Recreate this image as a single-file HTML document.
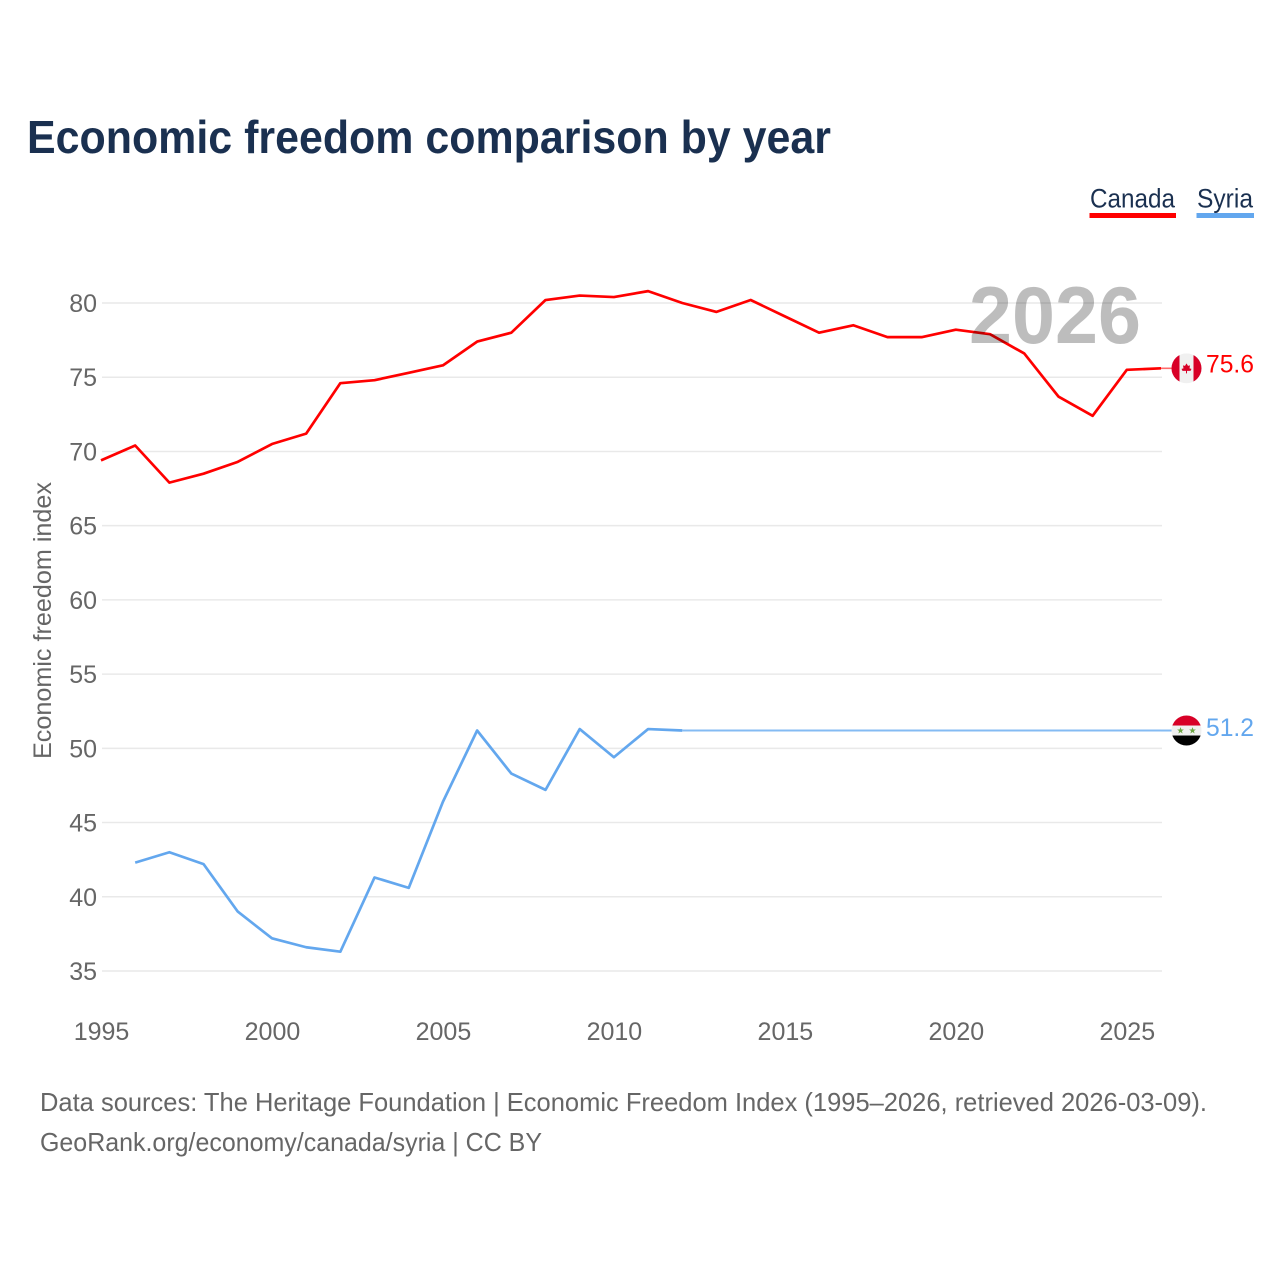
<!DOCTYPE html>
<html lang="en">
<head>
<meta charset="utf-8">
<title>Economic freedom comparison by year</title>
<style>
html,body{margin:0;padding:0;background:#fff;width:1280px;height:1280px;overflow:hidden}
svg{display:block}
text{font-family:"Liberation Sans",sans-serif}
</style>
</head>
<body>
<svg id="chart" width="1280" height="1280" viewBox="0 0 1280 1280" xmlns="http://www.w3.org/2000/svg">
  <defs>
    <clipPath id="flag-clip"><circle cx="0" cy="0" r="15"/></clipPath>
  </defs>
  <rect width="1280" height="1280" fill="#fff"/>
  <text x="27" y="153" font-size="46" font-weight="700" fill="#1a3050" textLength="804" lengthAdjust="spacingAndGlyphs">Economic freedom comparison by year</text>

  <g>
    <g>
      <text x="1090" y="207.5" font-size="27" fill="#1a3050" textLength="85" lengthAdjust="spacingAndGlyphs">Canada</text>
      <rect x="1089.5" y="213" width="86.5" height="5" fill="#ff0000"/>
    </g>
    <g>
      <text x="1197" y="207.5" font-size="27" fill="#1a3050" textLength="56" lengthAdjust="spacingAndGlyphs">Syria</text>
      <rect x="1196.5" y="213" width="57.5" height="5" fill="#63a7ee"/>
    </g>
  </g>

  <g id="grid"></g>
  <g id="y-ticks"></g>
  <g id="x-ticks"></g>
  <text transform="translate(51,759) rotate(-90)" font-size="25" fill="#666" textLength="277" lengthAdjust="spacingAndGlyphs">Economic freedom index</text>
  <g id="series"></g>

  <text x="969" y="343" font-size="81" font-weight="700" fill="rgba(0,0,0,0.26)" textLength="172" lengthAdjust="spacingAndGlyphs">2026</text>

  <g id="flag-canada">
    <g clip-path="url(#flag-clip)">
      <rect x="-15" y="-15" width="30" height="30" fill="#f0f0f0"/>
      <rect x="-15" y="-15" width="8" height="30" fill="#d80027"/>
      <rect x="7" y="-15" width="8" height="30" fill="#d80027"/>
      <polygon points="0,-5 1.5,-2.5 3.5,-3 3,0 5,0.5 4,2.5 0.5,2.5 0.5,5 -0.5,5 -0.5,2.5 -4,2.5 -5,0.5 -3,0 -3.5,-3 -1.5,-2.5" fill="#d80027"/>
    </g>
  </g>
  <g id="flag-syria">
    <g clip-path="url(#flag-clip)">
      <rect x="-15" y="-15" width="30" height="30" fill="#f0f0f0"/>
      <rect x="-15" y="-15" width="30" height="10" fill="#d80027"/>
      <rect x="-15" y="5" width="30" height="10" fill="#000"/>
      <polygon transform="translate(-6,0)" points="0,-3.4 0.9,-1 3.4,-1 1.4,0.5 2.1,3 0,1.5 -2.1,3 -1.4,0.5 -3.4,-1 -0.9,-1" fill="#6da544"/>
      <polygon transform="translate(6,0)" points="0,-3.4 0.9,-1 3.4,-1 1.4,0.5 2.1,3 0,1.5 -2.1,3 -1.4,0.5 -3.4,-1 -0.9,-1" fill="#6da544"/>
    </g>
  </g>
  <text id="end-label-canada" x="1206" font-size="25" fill="#ff0000" textLength="48" lengthAdjust="spacingAndGlyphs"></text>
  <text id="end-label-syria" x="1206" font-size="25" fill="#63a7ee" textLength="48" lengthAdjust="spacingAndGlyphs"></text>

  <g>
    <text x="40" y="1111" font-size="26" fill="#666" textLength="1167" lengthAdjust="spacingAndGlyphs">Data sources: The Heritage Foundation | Economic Freedom Index (1995–2026, retrieved 2026-03-09).</text>
    <text x="40" y="1151" font-size="26" fill="#666" textLength="502" lengthAdjust="spacingAndGlyphs">GeoRank.org/economy/canada/syria | CC BY</text>
  </g>
</svg>
<script>
const yTicks = [35, 40, 45, 50, 55, 60, 65, 70, 75, 80];
const xTicks = [1995, 2000, 2005, 2010, 2015, 2020, 2025];
const canadaYears = [1995, 1996, 1997, 1998, 1999, 2000, 2001, 2002, 2003, 2004, 2005, 2006, 2007, 2008, 2009, 2010, 2011, 2012, 2013, 2014, 2015, 2016, 2017, 2018, 2019, 2020, 2021, 2022, 2023, 2024, 2025, 2026];
const canadaValues = [69.4, 70.4, 67.9, 68.5, 69.3, 70.5, 71.2, 74.6, 74.8, 75.3, 75.8, 77.4, 78.0, 80.2, 80.5, 80.4, 80.8, 80.0, 79.4, 80.2, 79.1, 78.0, 78.5, 77.7, 77.7, 78.2, 77.9, 76.6, 73.7, 72.4, 75.5, 75.6];
const syriaYears = [1996, 1997, 1998, 1999, 2000, 2001, 2002, 2003, 2004, 2005, 2006, 2007, 2008, 2009, 2010, 2011, 2012];
const syriaValues = [42.3, 43.0, 42.2, 39.0, 37.2, 36.6, 36.3, 41.3, 40.6, 46.4, 51.2, 48.3, 47.2, 51.3, 49.4, 51.3, 51.2];
const syriaCarriedYears = [2012, 2026];
const syriaCarriedValues = [51.2, 51.2];
const canadaEndValue = 75.6;
const syriaEndValue = 51.2;

const NS = 'http://www.w3.org/2000/svg';
const xScale = yr => 101 + (yr - 1995) * (1161 - 101) / 31;
const yScale = v => 971 - (v - 35) * (971 - 303) / 45;

function makeSvg(tag, attrs, parent) {
  const el = document.createElementNS(NS, tag);
  for (const k in attrs) el.setAttribute(k, attrs[k]);
  parent.appendChild(el);
  return el;
}
function linePath(years, values) {
  return years.map((yr, i) => (i ? 'L' : 'M') + xScale(yr).toFixed(2) + ' ' + yScale(values[i]).toFixed(2)).join(' ');
}

const gridG = document.getElementById('grid');
const yG = document.getElementById('y-ticks');
const xG = document.getElementById('x-ticks');
const seriesG = document.getElementById('series');

yTicks.forEach(t => {
  const line = makeSvg('line', {x1: 102, x2: 1162, y1: yScale(t), y2: yScale(t), stroke: '#e9e9e9', 'stroke-width': 1.5}, gridG);
  
  
  const label = makeSvg('text', {x: 97, y: yScale(t) + 9, 'text-anchor': 'end', 'font-size': 25, fill: '#666'}, yG);
  
  
  label.textContent = t;
});

xTicks.forEach(t => {
  const label = makeSvg('text', {x: xScale(t) + 0.5, y: 1040, 'text-anchor': 'middle', 'font-size': 25, fill: '#666'}, xG);
  
  
  label.textContent = t;
});

const canadaLine = makeSvg('path', {d: linePath(canadaYears, canadaValues), fill: 'none', stroke: '#ff0000', 'stroke-width': 2.7, 'stroke-linejoin': 'round'}, seriesG);



const syriaCarried = makeSvg('path', {d: linePath(syriaCarriedYears, syriaCarriedValues), fill: 'none', stroke: '#84bbf3', 'stroke-width': 2}, seriesG);



const syriaLine = makeSvg('path', {d: linePath(syriaYears, syriaValues), fill: 'none', stroke: '#63a7ee', 'stroke-width': 2.7, 'stroke-linejoin': 'round'}, seriesG);



const canadaConnector = makeSvg('line', {x1: xScale(2026), x2: 1172, y1: yScale(canadaEndValue), y2: yScale(canadaEndValue), stroke: '#ff6a6a', 'stroke-width': 1.6}, seriesG);



const syriaConnector = makeSvg('line', {x1: xScale(2026), x2: 1172, y1: yScale(syriaEndValue), y2: yScale(syriaEndValue), stroke: '#84bbf3', 'stroke-width': 2}, seriesG);



document.getElementById('flag-canada').setAttribute('transform', 'translate(1186.5,' + yScale(canadaEndValue) + ')');
document.getElementById('flag-syria').setAttribute('transform', 'translate(1186.5,' + yScale(syriaEndValue) + ')');

const endCanada = document.getElementById('end-label-canada');
endCanada.setAttribute('y', yScale(canadaEndValue) + 6 - 2);
endCanada.textContent = canadaEndValue.toFixed(1);
const endSyria = document.getElementById('end-label-syria');
endSyria.setAttribute('y', yScale(syriaEndValue) + 7 - 1.5);
endSyria.textContent = syriaEndValue.toFixed(1);
</script>
</body>
</html>
